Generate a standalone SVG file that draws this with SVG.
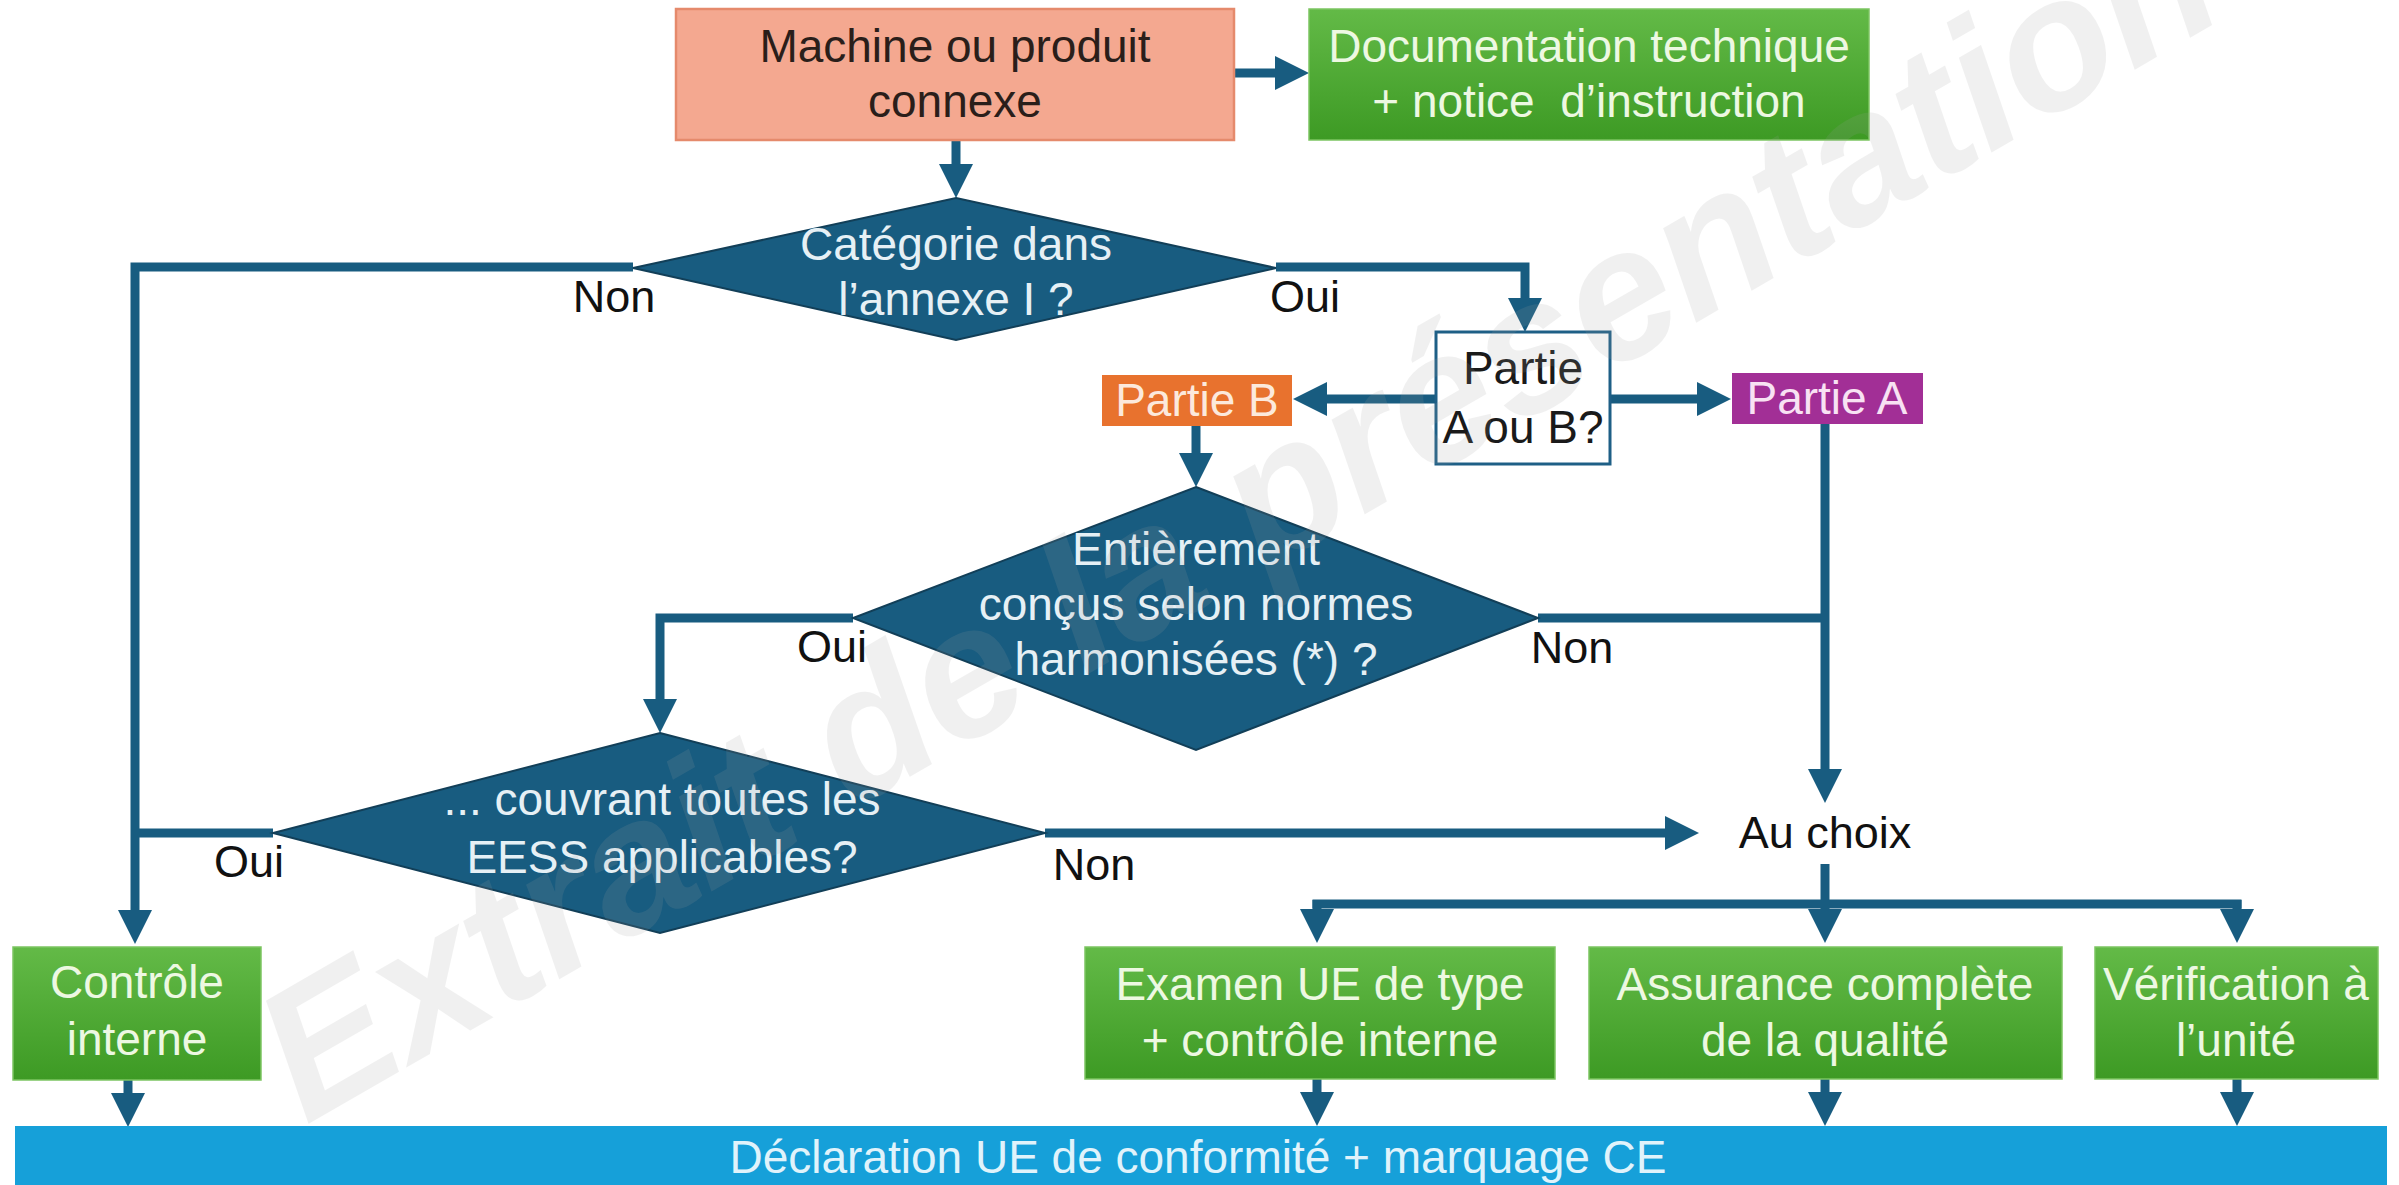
<svg xmlns="http://www.w3.org/2000/svg" width="2399" height="1185" viewBox="0 0 2399 1185">
<defs>
<linearGradient id="g" x1="0" y1="0" x2="0" y2="1">
<stop offset="0" stop-color="#63BA47"/>
<stop offset="1" stop-color="#3D9A24"/>
</linearGradient>
<marker id="ah" markerUnits="userSpaceOnUse" markerWidth="34" markerHeight="34" viewBox="0 0 34 34" refX="1" refY="17" orient="auto">
<path d="M0,0 L34,17 L0,34 z" fill="#185C80"/>
</marker>
<style>
text{font-family:"Liberation Sans",Arial,sans-serif;font-size:46px;text-anchor:middle}
.dia{fill:#185C80;stroke:#123F58;stroke-width:2}
.dt{fill:#E6F0F5}
.green{fill:url(#g);stroke:#7CC561;stroke-width:1.5}
.gt{fill:#EDF8E2}
.lbl{fill:#111111;font-size:45px}
.c{fill:none;stroke:#185C80;stroke-width:9}
.ca{fill:none;stroke:#185C80;stroke-width:9;marker-end:url(#ah)}
</style>
</defs>
<rect width="2399" height="1185" fill="#FFFFFF"/>

<g id="connectors">
<path class="ca" d="M1234,73 H1276"/>
<path class="ca" d="M956,140 V165"/>
<path class="ca" d="M633,267 H135 V911"/>
<path class="ca" d="M1276,267 H1525 V299"/>
<path class="ca" d="M1436,399 H1326"/>
<path class="ca" d="M1610,399 H1698"/>
<path class="ca" d="M1196,426 V454"/>
<path class="ca" d="M1825,424 V770"/>
<path class="c" d="M1538,618 H1825"/>
<path class="ca" d="M853,618 H660 V700"/>
<path class="c" d="M273,833 H135"/>
<path class="ca" d="M1045,833 H1666"/>
<path class="c" d="M1825,864 V904"/>
<path class="c" d="M1312.5,904 H2241.5"/>
<path class="ca" d="M1317,900 V910"/>
<path class="ca" d="M1825,900 V910"/>
<path class="ca" d="M2237,900 V910"/>
<path class="ca" d="M128,1080 V1094"/>
<path class="ca" d="M1317,1079 V1093"/>
<path class="ca" d="M1825,1079 V1093"/>
<path class="ca" d="M2237,1079 V1093"/>
</g>

<g id="machine">
<rect x="676" y="9" width="558" height="131" fill="#F4A890" stroke="#E58A6C" stroke-width="2.5"/>
<text x="955" y="62" fill="#2A1E1A">Machine ou produit</text>
<text x="955" y="117" fill="#2A1E1A">connexe</text>
</g>

<g id="documentation">
<rect class="green" x="1309" y="9" width="560" height="131"/>
<text class="gt" x="1589" y="62">Documentation technique</text>
<text class="gt" x="1589" y="117" xml:space="preserve">+ notice  d’instruction</text>
</g>

<g id="categorie">
<polygon class="dia" points="956,198 1276,268 956,340 633,268"/>
<text class="dt" x="956" y="260">Catégorie dans</text>
<text class="dt" x="956" y="315">l’annexe I ?</text>
</g>

<g id="partie-a-ou-b">
<rect x="1436" y="332" width="174" height="132" fill="#FFFFFF" stroke="#1E5F86" stroke-width="3"/>
<text x="1523" y="384" fill="#1A1A1A">Partie</text>
<text x="1523" y="443" fill="#1A1A1A">A ou B?</text>
</g>

<g id="partie-b">
<rect x="1102" y="375" width="190" height="51" fill="#E8722E"/>
<text x="1197" y="416" fill="#FCE9DC">Partie B</text>
</g>

<g id="partie-a">
<rect x="1732" y="373" width="191" height="51" fill="#A22F96"/>
<text x="1827" y="414" fill="#F8E2F3">Partie A</text>
</g>

<g id="entierement">
<polygon class="dia" points="1196,487 1538,618 1196,750 853,618"/>
<text class="dt" x="1196" y="565">Entièrement</text>
<text class="dt" x="1196" y="620">conçus selon normes</text>
<text class="dt" x="1196" y="675">harmonisées (*) ?</text>
</g>

<g id="couvrant">
<polygon class="dia" points="660,733 1045,833 660,933 273,833"/>
<text class="dt" x="662" y="815">... couvrant toutes les</text>
<text class="dt" x="662" y="873">EESS applicables?</text>
</g>

<g id="labels">
<text class="lbl" x="614" y="312">Non</text>
<text class="lbl" x="1305" y="312">Oui</text>
<text class="lbl" x="832" y="662">Oui</text>
<text class="lbl" x="1572" y="663">Non</text>
<text class="lbl" x="249" y="877">Oui</text>
<text class="lbl" x="1094" y="880">Non</text>
</g>

<g id="au-choix">
<text class="lbl" x="1825" y="848">Au choix</text>
</g>

<g id="controle-interne">
<rect class="green" x="13" y="947" width="248" height="133"/>
<text class="gt" x="137" y="998">Contrôle</text>
<text class="gt" x="137" y="1055">interne</text>
</g>

<g id="examen">
<rect class="green" x="1085" y="947" width="470" height="132"/>
<text class="gt" x="1320" y="1000">Examen UE de type</text>
<text class="gt" x="1320" y="1056">+ contrôle interne</text>
</g>

<g id="assurance">
<rect class="green" x="1589" y="947" width="473" height="132"/>
<text class="gt" x="1825" y="1000">Assurance complète</text>
<text class="gt" x="1825" y="1056">de la qualité</text>
</g>

<g id="verification">
<rect class="green" x="2095" y="947" width="283" height="132"/>
<text class="gt" x="2236" y="1000">Vérification à</text>
<text class="gt" x="2236" y="1056">l’unité</text>
</g>

<g id="declaration">
<rect x="15" y="1126" width="2372" height="59" fill="#16A0D9"/>
<text x="1198" y="1173" fill="#E0F3FB">Déclaration UE de conformité + marquage CE</text>
</g>

<g id="watermark">
<text x="0" y="0" transform="translate(1268,570) rotate(-30)" style="font-size:186px;font-weight:bold;font-style:italic;fill:#A0A0A0;opacity:0.15">Extrait de la présentation</text>
</g>
</svg>
